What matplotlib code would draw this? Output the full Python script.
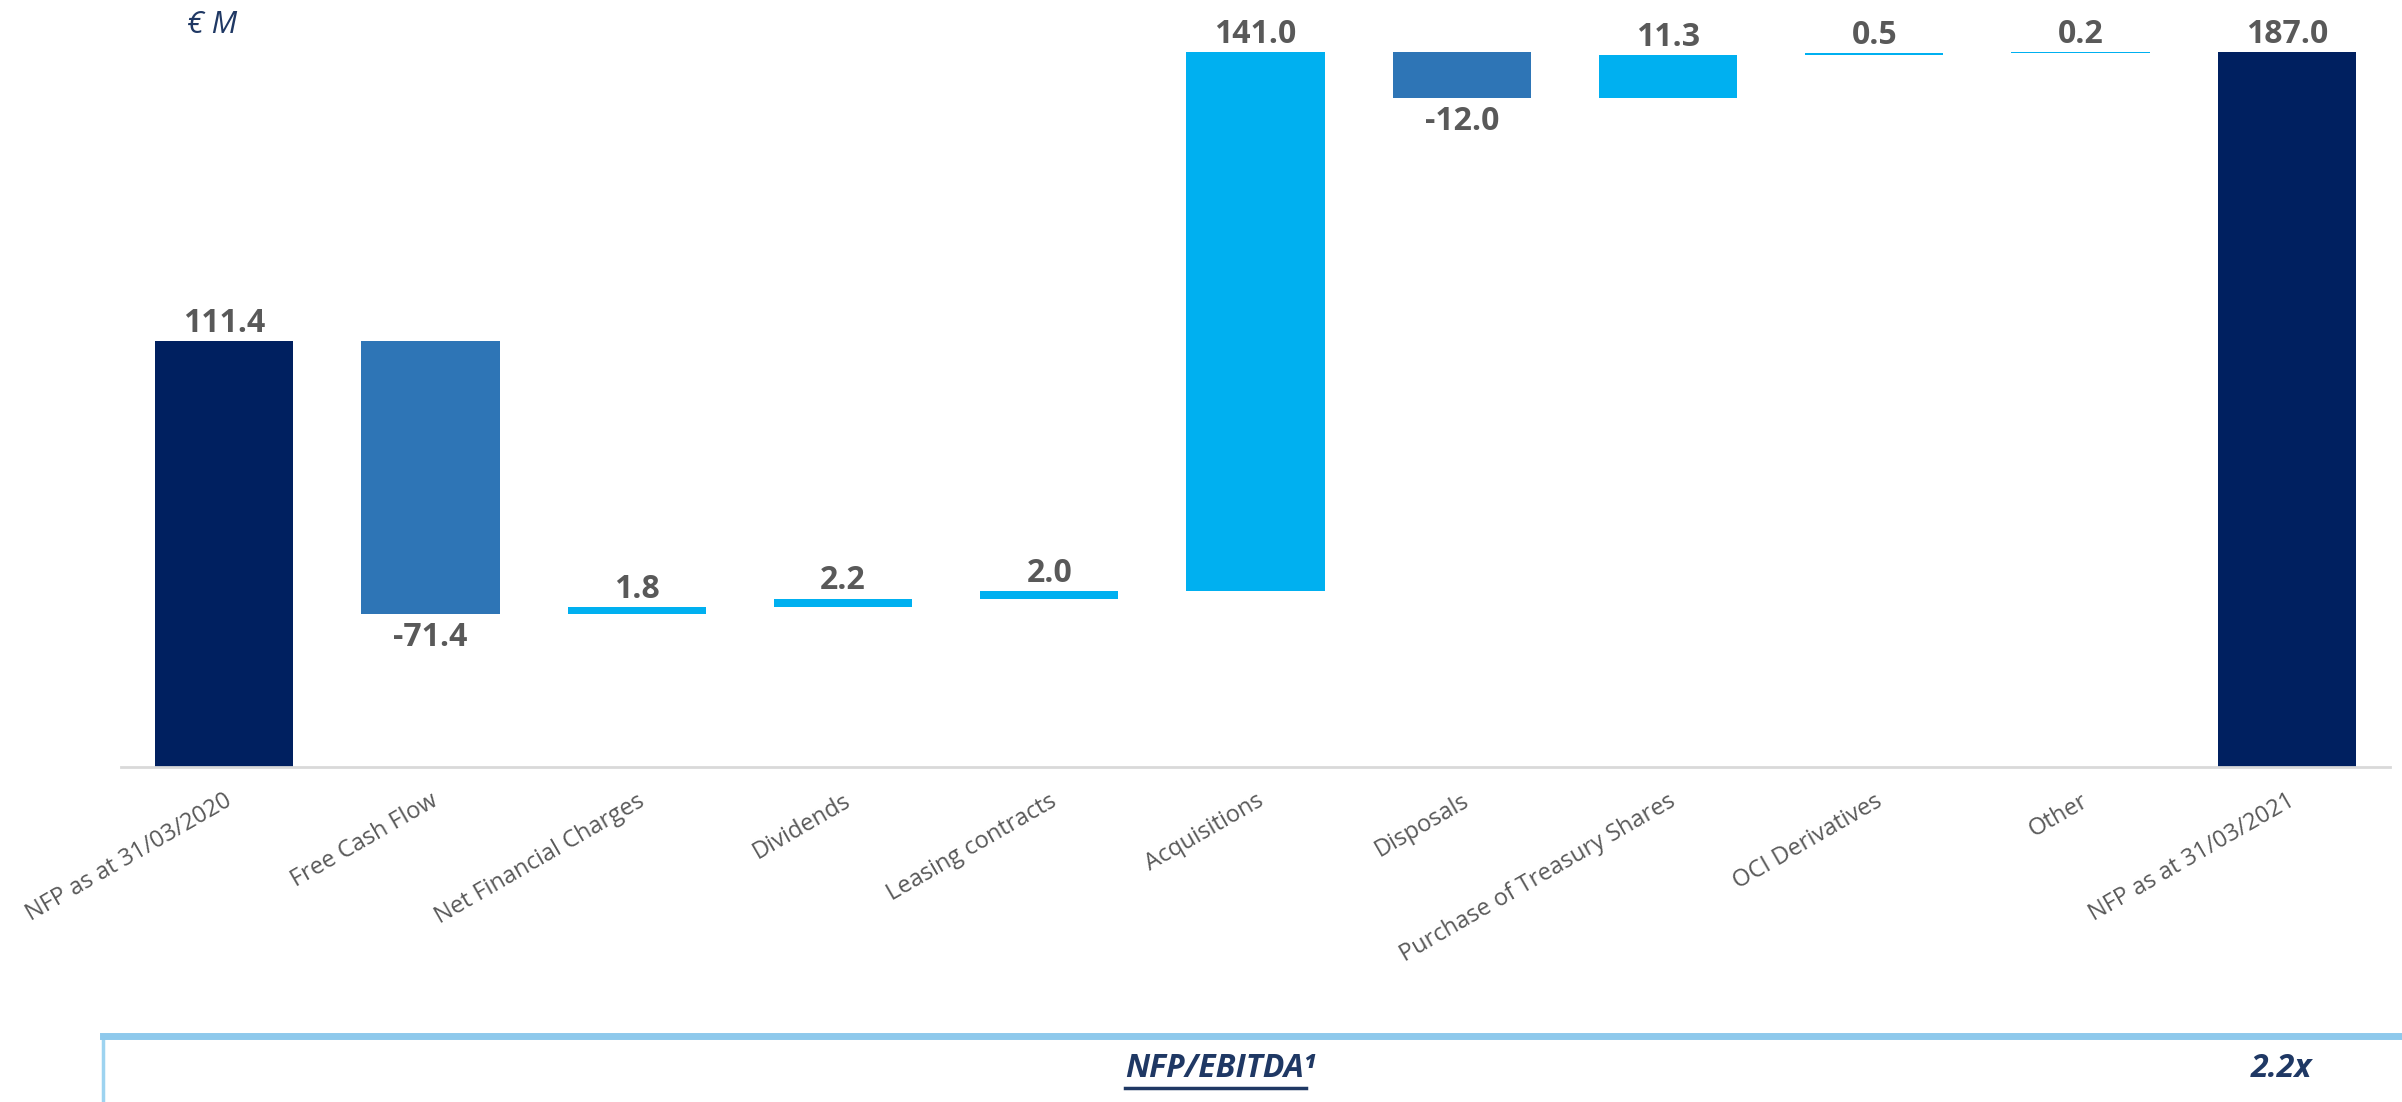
import matplotlib

matplotlib.use("Agg")
import matplotlib.pyplot as plt
from matplotlib.lines import Line2D
from matplotlib.patches import Rectangle

# NFP bridge, € M
categories = [
    "NFP as at 31/03/2020", "Free Cash Flow", "Net Financial Charges",
    "Dividends", "Leasing contracts", "Acquisitions", "Disposals",
    "Purchase of Treasury Shares", "OCI Derivatives", "Other",
    "NFP as at 31/03/2021",
]
start_value = 111.4
deltas = [-71.4, 1.8, 2.2, 2.0, 141.0, -12.0, 11.3, 0.5, 0.2]
end_value = 187.0
ratio_label = "NFP/EBITDA\u00b9"
ratio_value = "2.2x"

NAVY = "#002060"
MID = "#2E75B6"
CYAN = "#00B0F0"
GREY = "#595959"
TXT_BLUE = "#1F3864"
FONT = ["Open Sans", "DejaVu Sans"]

fig = plt.figure(figsize=(24.02, 11.02), dpi=100)
ax = fig.add_axes([0.0504, 0.304, 0.9446, 0.659])

# build waterfall segments
bottoms, heights, colors, labels, above = [], [], [], [], []
bottoms.append(0)
heights.append(start_value)
colors.append(NAVY)
labels.append(f"{start_value:.1f}")
above.append(True)
level = start_value
for d in deltas:
    bottoms.append(min(level, level + d))
    heights.append(abs(d))
    colors.append(CYAN if d >= 0 else MID)
    labels.append(f"{d:.1f}")
    above.append(d >= 0)
    level += d
bottoms.append(0)
heights.append(end_value)
colors.append(NAVY)
labels.append(f"{end_value:.1f}")
above.append(True)

x = list(range(len(categories)))
ax.bar(x, heights, bottom=bottoms, width=0.67, color=colors, linewidth=0)

for i in x:
    if above[i]:
        ax.annotate(labels[i], (i, bottoms[i] + heights[i]), xytext=(0, 1),
                    textcoords="offset points", ha="center", va="bottom",
                    fontsize=23, fontweight="bold", color=GREY, family=FONT)
    else:
        ax.annotate(labels[i], (i, bottoms[i]), xytext=(0, -5),
                    textcoords="offset points", ha="center", va="top",
                    fontsize=23, fontweight="bold", color=GREY, family=FONT)

ax.set_xlim(-0.5, len(categories) - 0.5)
ax.set_ylim(0, 190)
ax.set_yticks([])
ax.set_xticks(x)
ax.set_xticklabels(categories, rotation=30, ha="right", va="top",
                   rotation_mode="anchor", fontsize=17, color=GREY, family=FONT)
ax.tick_params(axis="x", length=0, pad=16)
for side in ("top", "left", "right"):
    ax.spines[side].set_visible(False)
ax.spines["bottom"].set_color("#D9D9D9")
ax.spines["bottom"].set_linewidth(2)

fig.text(0.078, 0.977, "\u20ac M", fontsize=22, style="italic", color=TXT_BLUE,
         ha="left", va="center", family=FONT)

# ratio box at the bottom
box = Rectangle((0.043, -0.02), 0.97, 0.08, transform=fig.transFigure,
                fill=False, edgecolor="#9DD3F0", linewidth=2.5, clip_on=False)
fig.add_artist(box)
fig.add_artist(Line2D([0.043, 1.0], [0.0595, 0.0595], transform=fig.transFigure,
                      color="#8EC9EC", linewidth=5))
t = fig.text(0.508, 0.03, ratio_label, fontsize=23, fontweight="bold",
             style="italic", color=TXT_BLUE, ha="center", va="center",
             family=FONT)
fig.text(0.950, 0.03, ratio_value, fontsize=23, fontweight="bold", style="italic",
         color=TXT_BLUE, ha="center", va="center", family=FONT)

# underline under the ratio label
fig.canvas.draw()
bb = t.get_window_extent().transformed(fig.transFigure.inverted())
fig.add_artist(Line2D([bb.x0, bb.x1 - 0.004], [bb.y0 - 0.002, bb.y0 - 0.002],
                      transform=fig.transFigure, color=TXT_BLUE, linewidth=2.5))

fig.savefig("out.png", dpi=100)
plt.close(fig)
